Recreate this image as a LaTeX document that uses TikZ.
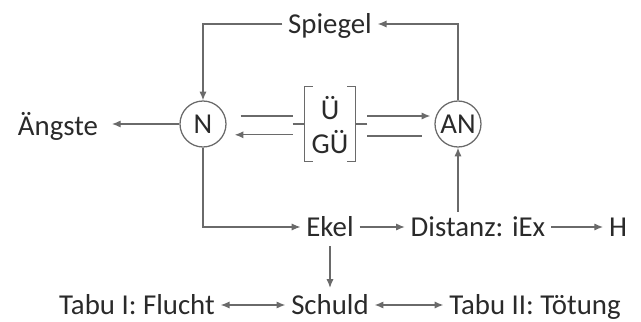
\documentclass[tikz,border=0pt]{standalone}
\usepackage{fontspec}
\setmainfont{Carlito}
\usepackage{xcolor}
\usetikzlibrary{arrows.meta, positioning, calc}
\definecolor{txtgray}{HTML}{2A2A2A}
\definecolor{linegray}{HTML}{6A6A6A}

\begin{document}
\begin{tikzpicture}[
    x=0.025cm, y=-0.025cm,
    every node/.style={font=\fontsize{20.5}{23}\selectfont, text=txtgray},
    lbl/.style={inner sep=4pt, text height=13pt, text depth=0pt},
    ring/.style={circle, draw=linegray, line width=0.9pt, minimum size=1.15cm, inner sep=0pt},
    grp/.style={minimum width=1.85cm, minimum height=1.875cm, inner sep=0pt},
    line/.style={draw=linegray, line width=0.9pt},
    arrow/.style={line, -{Latex[length=2.2mm, width=1.8mm]}},
    dblarrow/.style={line, {Latex[length=2.2mm, width=1.8mm]}-{Latex[length=2.2mm, width=1.8mm]}}
]
\useasboundingbox (0,0) rectangle (641,322);

\node[lbl] (spiegel) at (330,24) {Spiegel};
\node[ring] (n) at (203,124) {N};
\node[ring] (an) at (458,124) {AN};
\node[lbl] (aengste) at (58,126) {Ängste};
\node[grp] (uegrp) at (330,124) {};
\node[inner sep=0pt] (ue) at (330,108) {Ü};
\node[inner sep=0pt] (gue) at (330,142) {GÜ};
\node[lbl] (ekel) at (330,227) {Ekel};
\node[lbl] (distanz) at (478,227) {Distanz: iEx};
\node[lbl] (h) at (618,227) {H};
\node[lbl] (schuld) at (330,305) {Schuld};
\node[lbl] (tabuI) at (137,305) {Tabu I: Flucht};
\node[lbl] (tabuII) at (535,305) {Tabu II: Tötung};

% brackets around Ü / GÜ
\draw[line] ([xshift=0.5cm]uegrp.north west) -- ([xshift=0.3cm]uegrp.north west)
    -- ([xshift=0.3cm]uegrp.south west) -- ([xshift=0.5cm]uegrp.south west);
\draw[line] (uegrp.west) -- ([xshift=0.3cm]uegrp.west);
\draw[line] ([xshift=-0.5cm]uegrp.north east) -- ([xshift=-0.3cm]uegrp.north east)
    -- ([xshift=-0.3cm]uegrp.south east) -- ([xshift=-0.5cm]uegrp.south east);
\draw[line] (uegrp.east) -- ([xshift=-0.3cm]uegrp.east);

% N <-> brackets <-> AN
\draw[line] ([xshift=0.35cm,yshift=0.2cm]n.east) -- ([yshift=0.2cm]uegrp.west);
\draw[arrow] ([yshift=-0.27cm]uegrp.west) -- ([xshift=0.2cm,yshift=-0.27cm]n.east);
\draw[arrow] ([yshift=0.2cm]uegrp.east) -- ([xshift=-0.1cm,yshift=0.2cm]an.west);
\draw[line] ([yshift=-0.3cm]uegrp.east) -- ([xshift=-0.3cm,yshift=-0.3cm]an.west);

% loop via Spiegel
\draw[arrow] (an.north) |- (spiegel.east);
\draw[arrow] (spiegel.west) -| (n.north);
\draw[arrow] (n.west) -- ([xshift=0.2cm]aengste.east |- n.west);

% lower chain
\draw[arrow] (n.south) |- (ekel.west);
\draw[arrow] (ekel) -- (distanz);
\draw[arrow] (distanz) -- (h);
\draw[arrow] (distanz.north -| an) -- (an.south);
\draw[arrow, shorten <=0.1cm, shorten >=0.05cm] (ekel.south) -- (schuld.north);
\draw[dblarrow] (tabuI) -- (schuld);
\draw[dblarrow] (schuld) -- (tabuII);

\end{tikzpicture}
\end{document}
